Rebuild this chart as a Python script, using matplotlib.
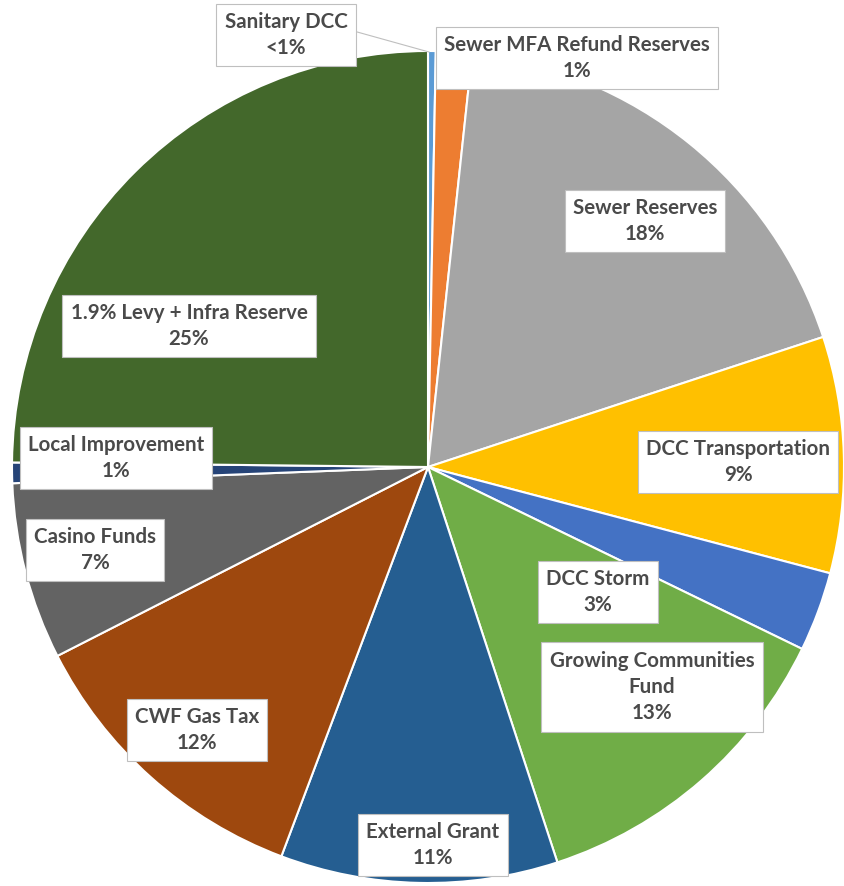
import numpy as np
import matplotlib.pyplot as plt

# Sumber pendanaan (searah jarum jam dari atas)
kategori = ['Sanitary DCC', 'Sewer MFA Refund Reserves', 'Sewer Reserves',
            'DCC Transportation', 'DCC Storm', 'Growing Communities\nFund',
            'External Grant', 'CWF Gas Tax', 'Casino Funds',
            'Local Improvement', '1.9% Levy + Infra Reserve']
nilai = [0.3, 1.4, 18.3, 9.2, 3.1, 12.8, 10.8, 11.8, 6.9, 0.8, 24.9]
warna = ['#5B9BD5', '#ED7D31', '#A5A5A5', '#FFC000', '#4472C4', '#70AD47',
         '#255E91', '#9E480E', '#636363', '#264478', '#43682B']

# posisi kotak label (piksel, dari kiri-atas)
posisi_label = [(286, 35), (577, 58), (645, 221), (738, 462), (598, 592),
                (652, 687), (433, 845), (197, 730), (95, 550), (116, 458),
                (189, 326)]

W, H = 844, 886
fig = plt.figure(figsize=(W / 100, H / 100), dpi=100)
ax = fig.add_axes([0, 0, 1, 1])

pusat = (428, H - 467)
jari = 416
ax.pie(nilai, colors=warna, startangle=90, counterclock=False,
       center=pusat, radius=jari, frame=True,
       wedgeprops=dict(edgecolor='white', linewidth=1.5))
ax.set_xlim(0, W)
ax.set_ylim(0, H)
ax.axis('off')

total = sum(nilai)
for nama, v, (px, py) in zip(kategori, nilai, posisi_label):
    p = v / total * 100
    teks = '<1%' if round(p) == 0 else f'{round(p)}%'
    ax.text(px, H - py, f'{nama}\n{teks}', ha='center', va='center',
            fontsize=14.8, fontweight='bold', color='#4a4a4a',
            family=['Lato', 'DejaVu Sans'], linespacing=1.4,
            bbox=dict(boxstyle='square,pad=0.4', fc='white', ec='#BFBFBF', lw=0.8))

# garis penunjuk untuk Sanitary DCC
ax.plot([350, 429], [H - 30, H - 52], color='#BFBFBF', lw=0.8)

fig.savefig('out.png', dpi=100)
